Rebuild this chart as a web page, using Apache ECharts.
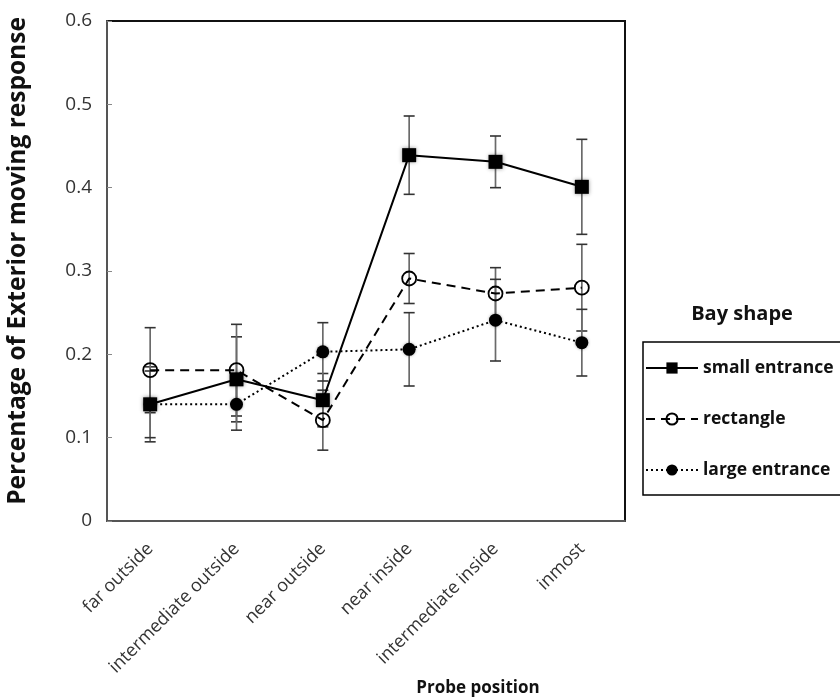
<!DOCTYPE html>
<html>
<head>
<meta charset="utf-8">
<script src="https://cdn.jsdelivr.net/npm/echarts@6/dist/echarts.min.js"></script>
<style>html,body{margin:0;padding:0;background:#fff;}#c{width:840px;height:700px;}</style>
</head>
<body>
<div id="c"></div>
<script>
const categories = ['far outside', 'intermediate outside', 'near outside', 'near inside', 'intermediate inside', 'inmost'];
const smallEntrance = [0.140, 0.170, 0.145, 0.439, 0.431, 0.401];
const smallEntranceErr = [0.045, 0.051, 0.032, 0.047, 0.031, 0.057];
const rectangle = [0.181, 0.181, 0.121, 0.291, 0.273, 0.280];
const rectangleErr = [0.051, 0.055, 0.036, 0.030, 0.031, 0.052];
const largeEntrance = [0.140, 0.140, 0.203, 0.206, 0.241, 0.214];
const largeEntranceErr = [0.040, 0.031, 0.035, 0.044, 0.049, 0.040];
const yTicks = [0, 0.1, 0.2, 0.3, 0.4, 0.5, 0.6];
const seriesNames = ['small entrance', 'rectangle', 'large entrance'];

const FONT = '"Open Sans"';

function errData(vals, errs) {
  return vals.map((v, i) => [i, v - errs[i], v + errs[i]]);
}
function errSeries(name, vals, errs) {
  return {
    type: 'custom',
    name: name + ' err',
    z: 1,
    silent: true,
    encode: { x: 0, y: [1, 2] },
    data: errData(vals, errs),
    renderItem: function (params, api) {
      const lo = api.coord([api.value(0), api.value(1)]);
      const hi = api.coord([api.value(0), api.value(2)]);
      const half = 5.5;
      return {
        type: 'group',
        children: [
          { type: 'line', shape: { x1: lo[0], y1: lo[1], x2: hi[0], y2: hi[1] }, style: { stroke: '#6a6a6a', lineWidth: 1.7 } },
          { type: 'line', shape: { x1: lo[0] - half, y1: lo[1], x2: lo[0] + half, y2: lo[1] }, style: { stroke: '#333', lineWidth: 1.6 } },
          { type: 'line', shape: { x1: hi[0] - half, y1: hi[1], x2: hi[0] + half, y2: hi[1] }, style: { stroke: '#333', lineWidth: 1.6 } }
        ]
      };
    }
  };
}

const chart = echarts.init(document.getElementById('c'), null, { renderer: 'canvas' });
chart.setOption({
  backgroundColor: '#fff',
  animation: false,
  textStyle: { fontFamily: FONT },
  grid: { left: 107, right: 215, top: 21, bottom: 179, show: true, borderColor: '#111', borderWidth: 2, backgroundColor: 'transparent' },
  xAxis: {
    type: 'category',
    data: categories,
    boundaryGap: true,
    axisLine: { lineStyle: { color: '#555', width: 2 } },
    axisTick: { alignWithLabel: true, length: 5, lineStyle: { color: '#777' } },
    axisLabel: { rotate: 45, fontSize: 18, color: '#333', margin: 25, fontFamily: FONT, interval: 0 },
    splitLine: { show: false }
  },
  yAxis: {
    type: 'value',
    min: yTicks[0],
    max: yTicks[yTicks.length - 1],
    interval: 0.1,
    axisLine: { show: true, lineStyle: { color: '#555', width: 2 } },
    axisTick: { show: true, inside: true, length: 5, lineStyle: { color: '#888' } },
    axisLabel: { fontSize: 19, color: '#333', margin: 15, fontFamily: FONT, formatter: v => v === 0 ? '0' : v.toFixed(1) },
    splitLine: { show: false }
  },
  legend: {
    data: seriesNames,
    orient: 'vertical',
    left: 645,
    top: 358,
    padding: 0,
    itemWidth: 52,
    itemHeight: 14,
    itemGap: 31,
    textStyle: { fontSize: 17.5, fontWeight: 'bold', color: '#111', fontFamily: FONT, lineHeight: 20 }
  },
  graphic: [
    { type: 'rect', shape: { x: 643, y: 342, width: 220, height: 153 }, style: { fill: 'none', stroke: '#000', lineWidth: 1.5 } },
    { type: 'text', x: 742, y: 314, style: { text: 'Bay shape', font: 'bold 20px ' + FONT, fill: '#111', align: 'center', verticalAlign: 'middle' } },
    { type: 'text', x: 478, y: 688, style: { text: 'Probe position', font: 'bold 17px ' + FONT, fill: '#111', align: 'center', verticalAlign: 'middle' } },
    { type: 'text', x: 18, y: 261, rotation: Math.PI / 2, style: { text: 'Percentage of Exterior moving response', font: 'bold 24.5px ' + FONT, fill: '#111', align: 'center', verticalAlign: 'middle' } }
  ],
  series: [
    errSeries(seriesNames[0], smallEntrance, smallEntranceErr),
    errSeries(seriesNames[1], rectangle, rectangleErr),
    errSeries(seriesNames[2], largeEntrance, largeEntranceErr),
    {
      type: 'line', name: seriesNames[0], data: smallEntrance, z: 3,
      symbol: 'rect', symbolSize: 14,
      itemStyle: { color: '#000', shadowBlur: 4, shadowColor: 'rgba(0,0,0,0.4)' },
      lineStyle: { color: '#000', width: 2, type: 'solid' }
    },
    {
      type: 'line', name: seriesNames[1], data: rectangle, z: 3,
      symbol: 'circle', symbolSize: 14,
      itemStyle: { color: 'none', borderColor: '#000', borderWidth: 1.8 },
      lineStyle: { color: '#000', width: 2, type: [9, 6] }
    },
    {
      type: 'line', name: seriesNames[2], data: largeEntrance, z: 3,
      symbol: 'circle', symbolSize: 13,
      itemStyle: { color: '#000', shadowBlur: 3, shadowColor: 'rgba(0,0,0,0.35)' },
      lineStyle: { color: '#000', width: 2, type: [2, 3] }
    }
  ]
});
</script>
</body>
</html>
